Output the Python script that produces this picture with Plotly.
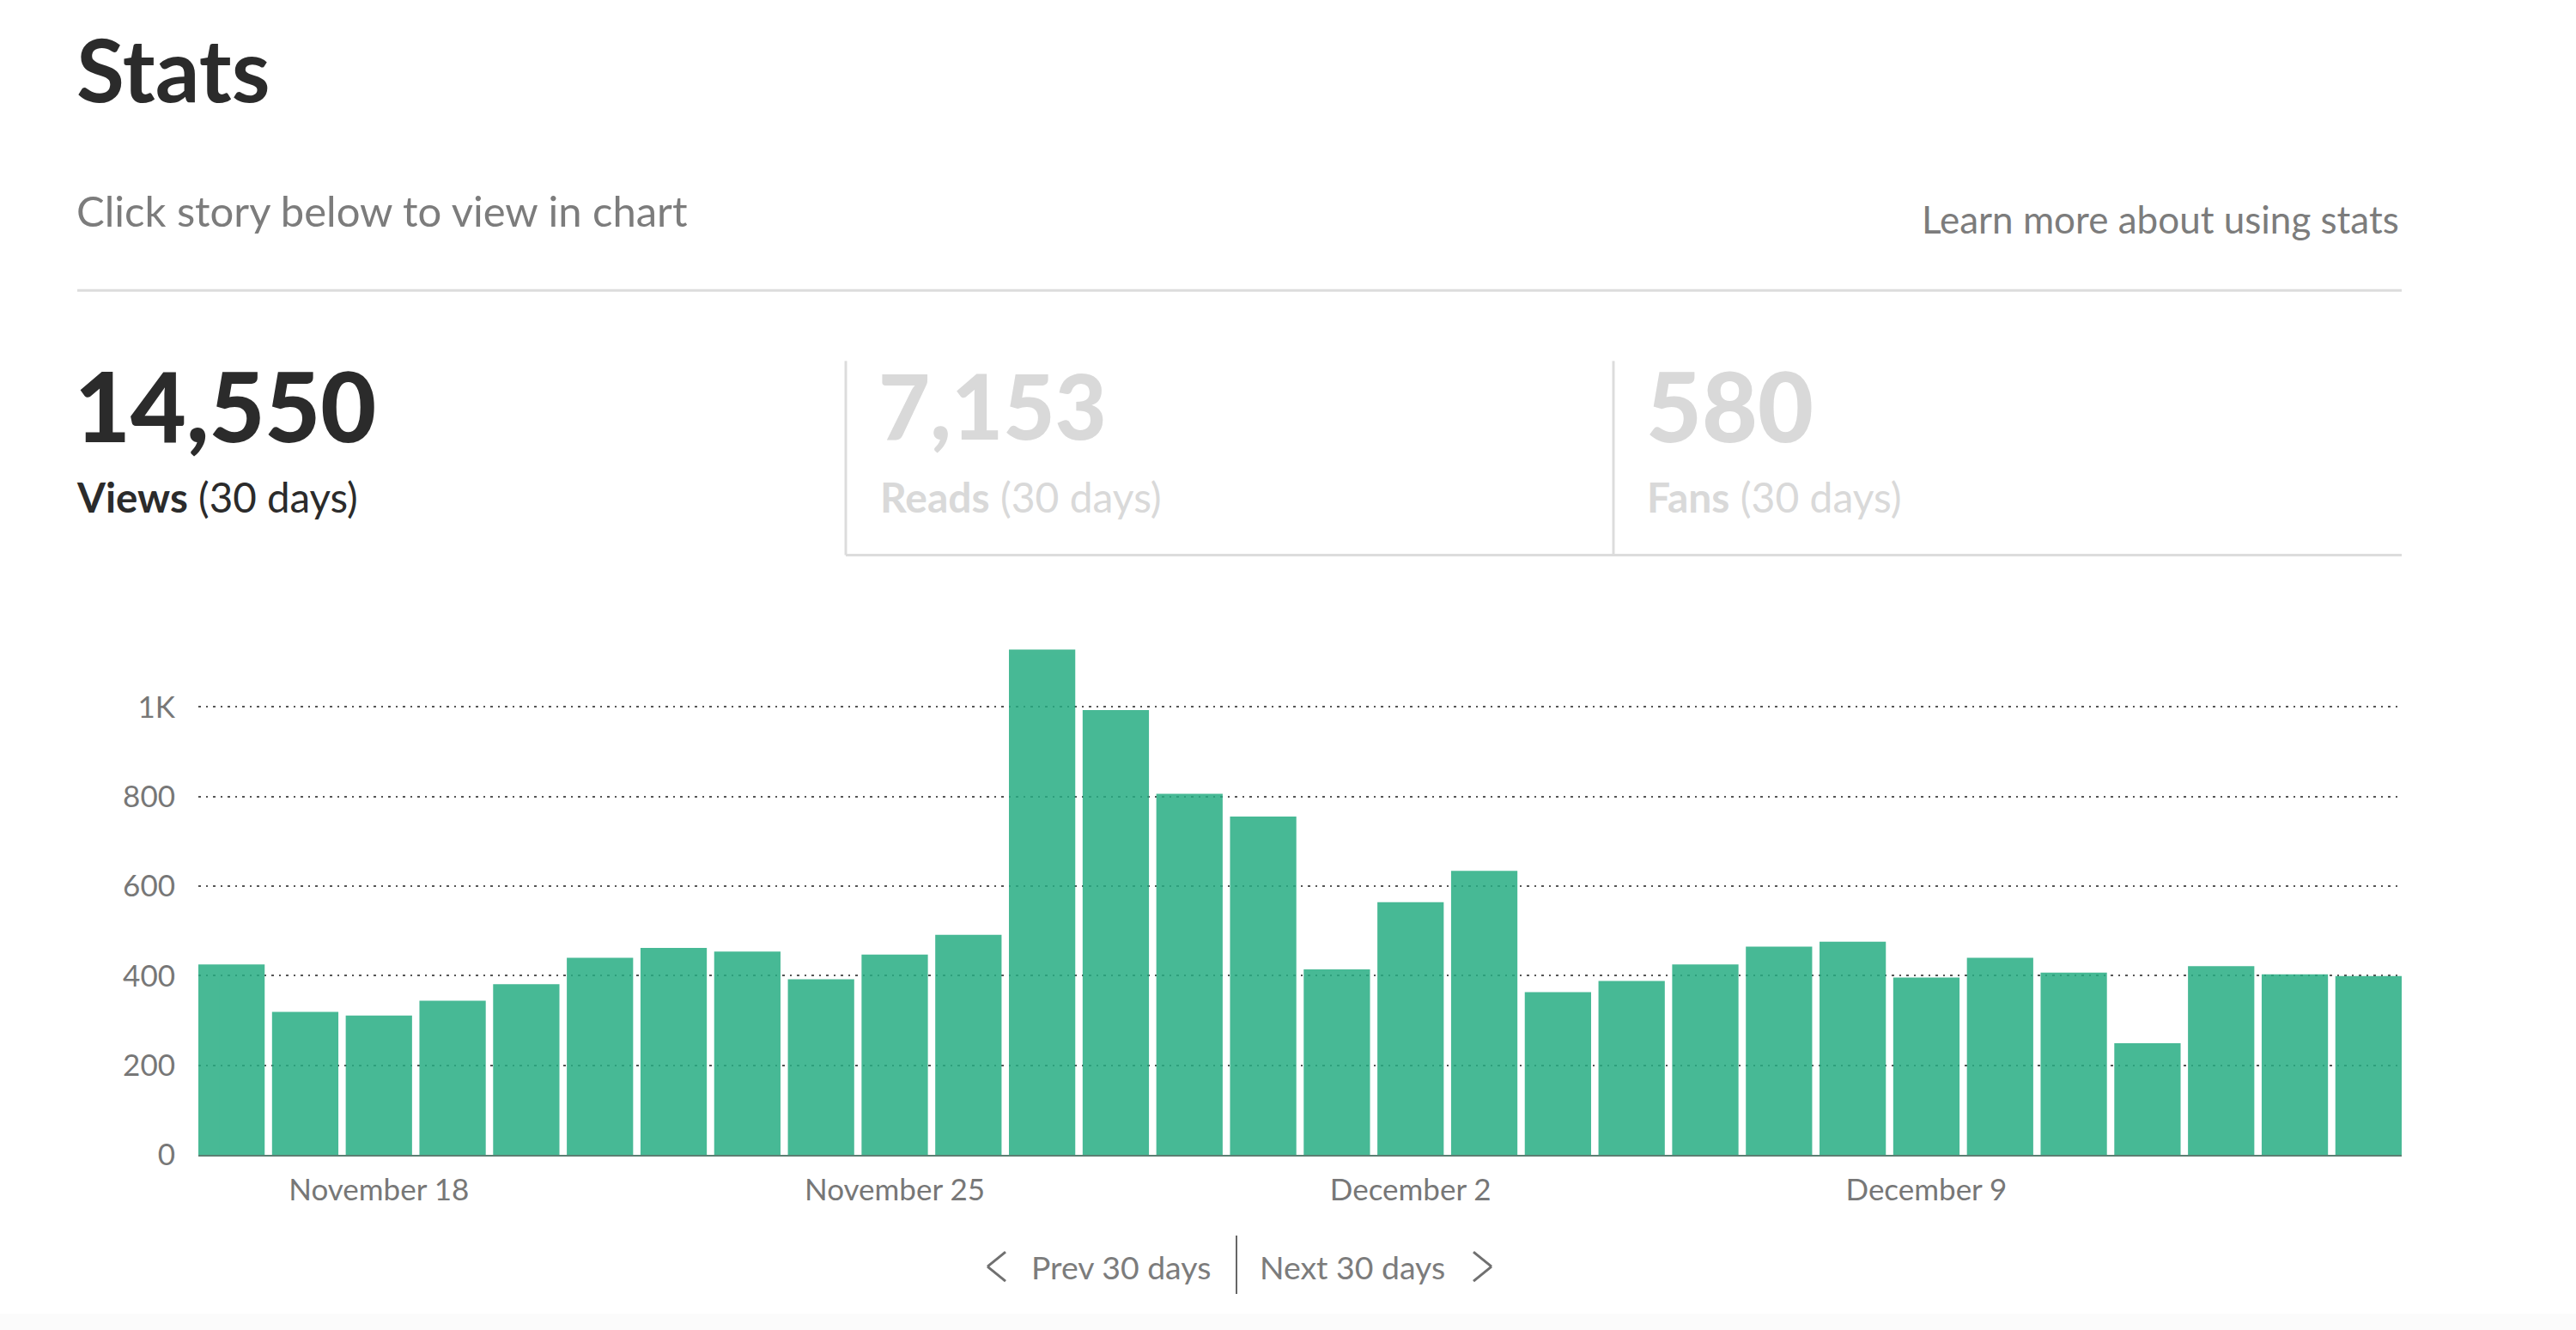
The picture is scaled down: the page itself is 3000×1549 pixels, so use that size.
import plotly.graph_objects as go

categories = ["November 16","November 17","November 18","November 19","November 20","November 21","November 22",
 "November 23","November 24","November 25","November 26","November 27","November 28","November 29","November 30",
 "December 1","December 2","December 3","December 4","December 5","December 6","December 7","December 8","December 9",
 "December 10","December 11","December 12","December 13","December 14","December 15"]
views = [425,319,311,344,381,440,462,454,392,447,491,1128,993,806,755,414,564,634,363,388,425,465,476,396,440,407,249,421,403,399]
x_ticks = ["November 18","November 25","December 2","December 9"]
y_ticks = [0,200,400,600,800,1000]
y_labels = ["0","200","400","600","800","1K"]

W, H = 3000, 1549
FONT = "Lato"
DARK, GREY, LIGHT, RULE = "#2b2b2b", "#7c7c7c", "#d9d9d9", "#dcdcdc"
L, R, B0, PX = 231, 2797, 1345, 0.5214
YMAX = 1150
T = B0 - YMAX * PX

def px(x): return (x - L) / (R - L)
def py(y): return (B0 - y) / (B0 - T)

fig = go.Figure(go.Bar(x=categories, y=views, marker=dict(color="rgb(40,173,131)", line=dict(width=0)),
                       opacity=0.85, hoverinfo="skip"))

def text(s, x, y, size, color, anchor="left", weight=None):
    fig.add_annotation(text=s, xref="paper", yref="paper", x=px(x), y=py(y), xanchor=anchor, yanchor="middle",
                       showarrow=False, borderpad=0, font=dict(family=FONT, size=size, color=color, weight=weight))

def line(x0, y0, x1, y1, color=RULE, width=3):
    fig.add_shape(type="line", xref="paper", yref="paper", x0=px(x0), y0=py(y0), x1=px(x1), y1=py(y1),
                  line=dict(color=color, width=width))

fig.add_shape(type="rect", xref="paper", yref="paper", x0=px(0), x1=px(W), y0=py(1530), y1=py(H),
              fillcolor="#fbfbfb", line=dict(width=0), layer="below")

text("<b>Stats</b>", 88, 80, 102, DARK)
text("Click story below to view in chart", 88, 246, 49, GREY)
text("Learn more about using stats", 2795, 256, 44, GREY, "right")
line(90, 339, 2797, 339)
text("14,550", 86, 472, 112, DARK, weight=900)
text("<b>Views</b> (30 days)", 88, 579, 47.5, DARK)
text("7,153", 1022, 472, 104, LIGHT, weight=900)
text("<b>Reads</b> (30 days)", 1024, 579, 48, LIGHT)
text("580", 1916, 472, 112, LIGHT, weight=900)
text("<b>Fans</b> (30 days)", 1917, 579, 48, LIGHT)
line(985, 421, 985, 647)
line(1879, 421, 1879, 647)
line(985, 647, 2797, 647)

text("Prev 30 days", 1200, 1475, 37.4, GREY)
text("Next 30 days", 1466, 1475, 37.4, GREY)
line(1440, 1439, 1440, 1507, "#666666", 2)
for a, b in ((1171, 1150), (1716, 1737)):
    line(a, 1458, b, 1475, "#707070", 3)
    line(b, 1475, a, 1492, "#707070", 3)

fig.update_layout(
    width=W, height=H, paper_bgcolor="white", plot_bgcolor="white", showlegend=False, bargap=0.1,
    margin=dict(l=L, r=W - R, t=T, b=H - B0, autoexpand=False),
    font=dict(family=FONT, size=36, color="#777777"),
    xaxis=dict(type="category", categoryorder="array", categoryarray=categories, range=[-0.45, 29.45],
               tickmode="array", tickvals=x_ticks, ticktext=x_ticks, tickangle=0, showgrid=False, zeroline=False,
               showline=True, linecolor="#5c7f73", linewidth=2, ticks="outside", ticklen=9, tickcolor="rgba(0,0,0,0)",
               tickfont=dict(size=35, color="#777777")),
    yaxis=dict(range=[0, YMAX], tickmode="array", tickvals=y_ticks, ticktext=y_labels, showgrid=True,
               gridcolor="#555555", gridwidth=2, griddash="2.5px,6px", zeroline=False, showline=False,
               ticks="outside", ticklen=19, tickcolor="rgba(0,0,0,0)", tickfont=dict(size=35, color="#777777")),
)
fig.write_html("out.html", config={"displayModeBar": False}, post_script="document.body.style.margin='0';")
